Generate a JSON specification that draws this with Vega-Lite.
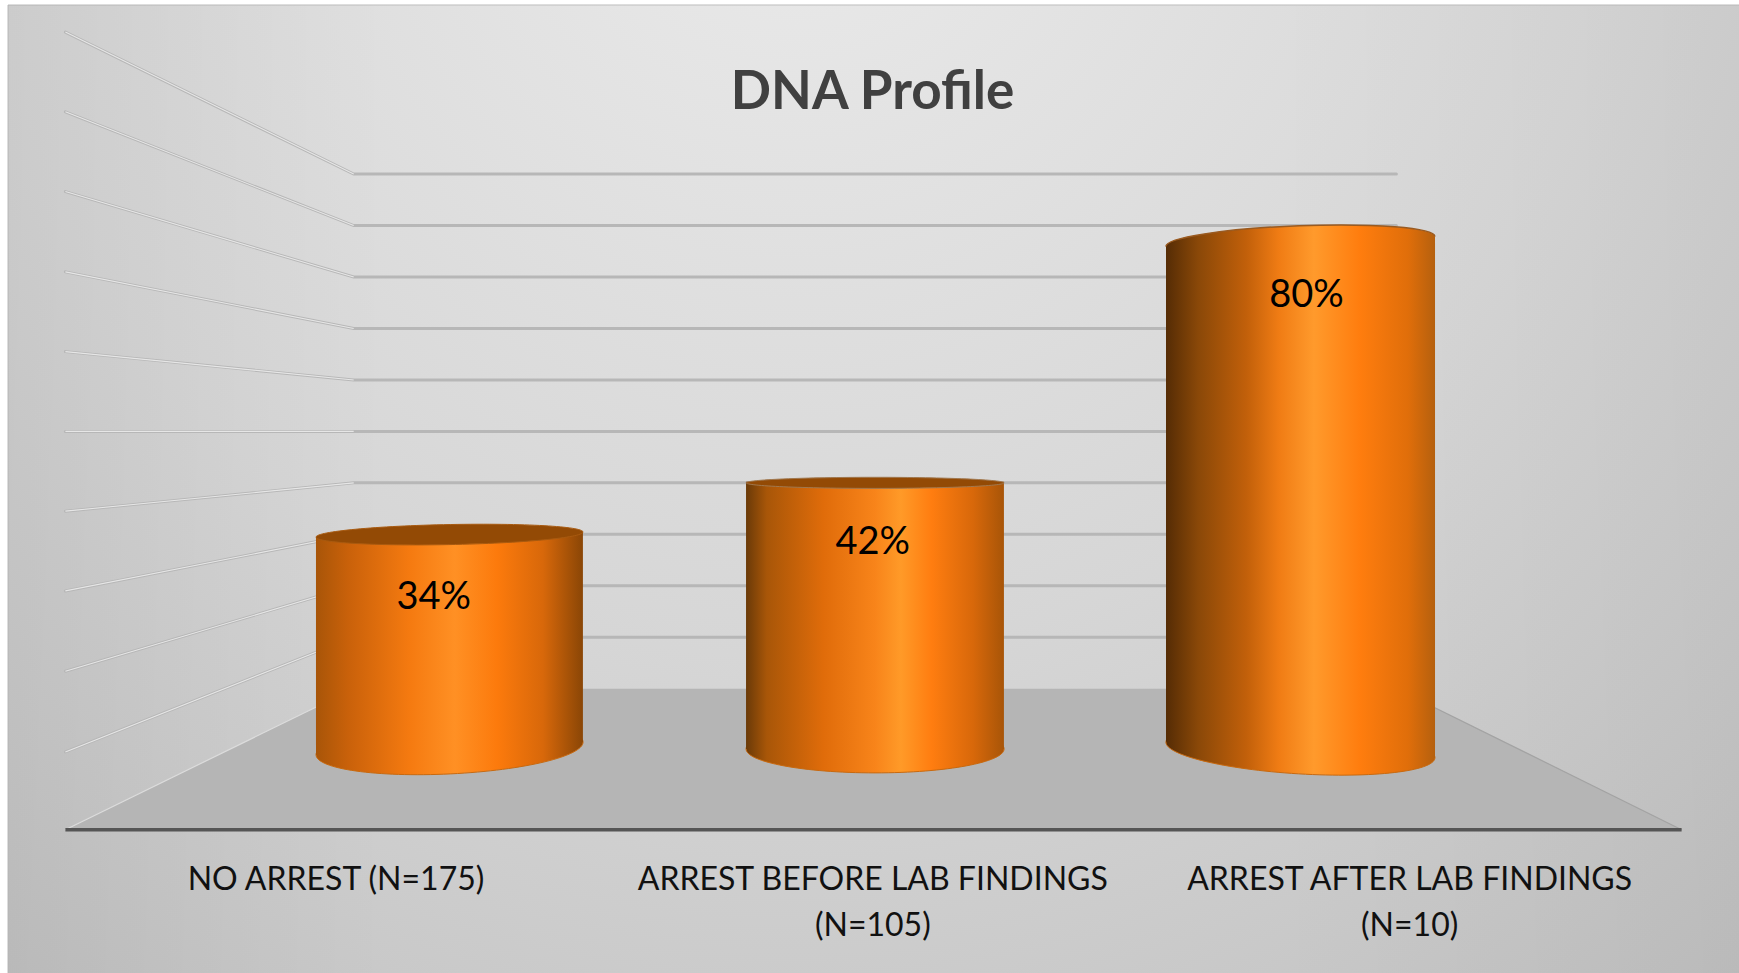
{
"$schema":"https://vega.github.io/schema/vega-lite/v6.json",
"autosize":"none","padding":0,"width":1739,"height":973,"background":"white",
"title":{"text":"DNA Profile","font":"Lato","fontSize":53,"fontWeight":"bold","color":"#404040","anchor":"middle","frame":"group","dx":3,"dy":112,"offset":-50,"baseline":"alphabetic"},
"config":{"axis":{"disable":true},"legend":{"disable":true},"view":{"stroke":null}},
"datasets":{
"frame":[{"x":0.46,"x2":100.5,"y":132.86,"y2":-56}],
"grid":[
{"level":100,"x":3.76,"y":127.6},{"level":100,"x":20.34,"y":100},{"level":100,"x":80.3,"y":100},
{"level":90,"x":3.76,"y":112.1},{"level":90,"x":20.34,"y":90},{"level":90,"x":80.3,"y":90},
{"level":80,"x":3.76,"y":96.6},{"level":80,"x":20.34,"y":80},{"level":80,"x":80.3,"y":80},
{"level":70,"x":3.76,"y":81},{"level":70,"x":20.34,"y":70},{"level":70,"x":80.3,"y":70},
{"level":60,"x":3.76,"y":65.5},{"level":60,"x":20.34,"y":60},{"level":60,"x":80.3,"y":60},
{"level":50,"x":3.76,"y":50},{"level":50,"x":20.34,"y":50},{"level":50,"x":80.3,"y":50},
{"level":40,"x":3.76,"y":34.5},{"level":40,"x":20.34,"y":40},{"level":40,"x":80.3,"y":40},
{"level":30,"x":3.76,"y":19},{"level":30,"x":20.34,"y":30},{"level":30,"x":80.3,"y":30},
{"level":20,"x":3.76,"y":3.4},{"level":20,"x":20.34,"y":20},{"level":20,"x":80.3,"y":20},
{"level":10,"x":3.76,"y":-12.3},{"level":10,"x":20.34,"y":10},{"level":10,"x":80.3,"y":10}
],
"floor":[{"x":3.76,"y":-27.4,"y2":-27.4},{"x":20.34,"y":0,"y2":-27.4},{"x":80.3,"y":0,"y2":-27.4},{"x":96.7,"y":-27.4,"y2":-27.4}],
"body":[
{"bar":"NO ARREST","x":18.17,"y":29.5,"y2":-12.9},{"bar":"NO ARREST","x":33.52,"y":30.4,"y2":-10.4},
{"bar":"BEFORE","x":42.9,"y":40.2,"y2":-11.7},{"bar":"BEFORE","x":57.73,"y":40.2,"y2":-11.7},
{"bar":"AFTER","x":67.05,"y":85.9,"y2":-10.3},{"bar":"AFTER","x":82.52,"y":87.8,"y2":-13.5}
],
"caps":[
{"bar":"NO ARREST","part":"top","x":25.85,"y":29.95},{"bar":"NO ARREST","part":"base","x":25.85,"y":-11.6},
{"bar":"BEFORE","part":"top","x":50.32,"y":40},{"bar":"BEFORE","part":"base","x":50.32,"y":-11.7},
{"bar":"AFTER","part":"top","x":74.78,"y":86.9},{"bar":"AFTER","part":"base","x":74.78,"y":-11.9}
],
"shares":[{"x":24.94,"y":17.65,"share":0.34},{"x":50.19,"y":28.25,"share":0.42},{"x":75.13,"y":76.25,"share":0.8}],
"categories":[
{"x":19.32,"y":-34.3,"category":"NO ARREST (N=175)"},
{"x":50.19,"y":-34.3,"category":"ARREST BEFORE LAB FINDINGS\n(N=105)"},
{"x":81.06,"y":-34.3,"category":"ARREST AFTER LAB FINDINGS\n(N=10)"}
]
},
"encoding":{
"x":{"field":"x","type":"quantitative","scale":{"domain":[0,100],"range":[0,1739],"nice":false,"zero":false}},
"y":{"field":"y","type":"quantitative","stack":null,"scale":{"domain":[-55.25,133.83],"range":[973,0],"nice":false,"zero":false}}
},
"layer":[
{"data":{"name":"frame"},"mark":{"type":"rect","stroke":"#bdbdbd","strokeWidth":1,"fill":{"gradient":"radial","x1":0.45,"y1":0.12,"r1":0,"x2":0.45,"y2":0.12,"r2":0.95,"stops":[{"offset":0,"color":"#ebebeb"},{"offset":0.5,"color":"#d6d6d6"},{"offset":1,"color":"#bababa"}]}},
 "encoding":{"x2":{"field":"x2"},"y2":{"field":"y2"}}},
{"data":{"name":"frame"},"mark":{"type":"rect","fill":{"gradient":"linear","x1":0,"y1":0,"x2":1,"y2":0,"stops":[{"offset":0,"color":"rgba(0,0,0,0.05)"},{"offset":0.22,"color":"rgba(0,0,0,0)"},{"offset":0.72,"color":"rgba(0,0,0,0)"},{"offset":1,"color":"rgba(0,0,0,0.03)"}]}},
 "encoding":{"x2":{"field":"x2"},"y2":{"field":"y2"}}},
{"data":{"name":"grid"},"mark":{"type":"line","stroke":"#b7b7b7","strokeWidth":3,"strokeCap":"round"},"encoding":{"detail":{"field":"level"}}},
{"data":{"name":"grid"},"transform":[{"filter":"datum.x < 21"}],"mark":{"type":"line","stroke":"#e6e6e6","strokeWidth":1.1},"encoding":{"detail":{"field":"level"}}},
{"data":{"name":"floor"},"mark":{"type":"area","orient":"vertical","fill":"#b5b5b5"},"encoding":{"y2":{"field":"y2"}}},
{"data":{"name":"floor"},"transform":[{"filter":"datum.x < 21"}],"mark":{"type":"line","stroke":"#dcdcdc","strokeWidth":1.2}},
{"data":{"name":"floor"},"transform":[{"filter":"datum.x > 21 && datum.x < 81"}],"mark":{"type":"line","stroke":"#c8c8c8","strokeWidth":2}},
{"data":{"name":"floor"},"transform":[{"filter":"datum.x > 80"}],"mark":{"type":"line","stroke":"#a3a3a3","strokeWidth":1.2}},
{"data":{"name":"floor"},"mark":{"type":"rule","stroke":"#555555","strokeWidth":3.5},"transform":[{"filter":"datum.x == 3.76"}],"encoding":{"x2":{"datum":96.7}}},

{"data":{"name":"caps"},"transform":[{"filter":"datum.bar == 'NO ARREST' && datum.part == 'base'"}],
 "mark":{"type":"point","filled":true,"opacity":1,"size":71289,"shape":"M-1 0.0487 A1 0.191 -2.8 1 0 1 -0.0487 A1 0.191 -2.8 1 0 -1 0.0487Z","stroke":"#c8690f","strokeWidth":1,
 "fill":{"gradient":"linear","x1":0,"y1":0,"x2":1,"y2":0,"stops":[{"offset":0,"color":"#a85508"},{"offset":0.12,"color":"#c9610a"},{"offset":0.35,"color":"#f57a10"},{"offset":0.52,"color":"#ff9024"},{"offset":0.68,"color":"#fc7a0c"},{"offset":0.85,"color":"#d8680a"},{"offset":1,"color":"#8a4606"}]}}},
{"data":{"name":"body"},"transform":[{"filter":"datum.bar == 'NO ARREST'"}],
 "mark":{"type":"area","orient":"vertical",
 "fill":{"gradient":"linear","x1":0,"y1":0,"x2":1,"y2":0,"stops":[{"offset":0,"color":"#a85508"},{"offset":0.12,"color":"#c9610a"},{"offset":0.35,"color":"#f57a10"},{"offset":0.52,"color":"#ff9024"},{"offset":0.68,"color":"#fc7a0c"},{"offset":0.85,"color":"#d8680a"},{"offset":1,"color":"#8a4606"}]}},"encoding":{"y2":{"field":"y2"}}},
{"data":{"name":"caps"},"transform":[{"filter":"datum.bar == 'NO ARREST' && datum.part == 'top'"}],
 "mark":{"type":"point","filled":true,"opacity":1,"size":71289,"shape":"M-1 0.0187 A1 0.075 -1.1 1 1 1 -0.0187 A1 0.075 -1.1 1 1 -1 0.0187Z","stroke":"#a85a10","strokeWidth":1,"fill":"#934a05"}},

{"data":{"name":"caps"},"transform":[{"filter":"datum.bar == 'BEFORE' && datum.part == 'base'"}],
 "mark":{"type":"point","filled":true,"opacity":1,"size":66564,"shape":"M-1 0 A1 0.186 0 1 0 1 0 A1 0.186 0 1 0 -1 0Z","stroke":"#c8690f","strokeWidth":1,
 "fill":{"gradient":"linear","x1":0,"y1":0,"x2":1,"y2":0,"stops":[{"offset":0,"color":"#6a3a08"},{"offset":0.08,"color":"#a85608"},{"offset":0.3,"color":"#e06c0a"},{"offset":0.5,"color":"#f8841a"},{"offset":0.6,"color":"#ff9a28"},{"offset":0.72,"color":"#ff7d10"},{"offset":0.88,"color":"#d8680a"},{"offset":1,"color":"#a85508"}]}}},
{"data":{"name":"body"},"transform":[{"filter":"datum.bar == 'BEFORE'"}],
 "mark":{"type":"area","orient":"vertical",
 "fill":{"gradient":"linear","x1":0,"y1":0,"x2":1,"y2":0,"stops":[{"offset":0,"color":"#6a3a08"},{"offset":0.08,"color":"#a85608"},{"offset":0.3,"color":"#e06c0a"},{"offset":0.5,"color":"#f8841a"},{"offset":0.6,"color":"#ff9a28"},{"offset":0.72,"color":"#ff7d10"},{"offset":0.88,"color":"#d8680a"},{"offset":1,"color":"#a85508"}]}},"encoding":{"y2":{"field":"y2"}}},
{"data":{"name":"caps"},"transform":[{"filter":"datum.bar == 'BEFORE' && datum.part == 'top'"}],
 "mark":{"type":"point","filled":true,"opacity":1,"size":66564,"shape":"M-1 0 A1 0.043 0 1 1 1 0 A1 0.043 0 1 1 -1 0Z","stroke":"#a0784f","strokeWidth":1,"fill":"#934a05"}},

{"data":{"name":"caps"},"transform":[{"filter":"datum.bar == 'AFTER' && datum.part == 'base'"}],
 "mark":{"type":"point","filled":true,"opacity":1,"size":72361,"shape":"M-1 -0.06 A1 0.178 3.4 1 0 1 0.06 A1 0.178 3.4 1 0 -1 -0.06Z","stroke":"#c8690f","strokeWidth":1,
 "fill":{"gradient":"linear","x1":0,"y1":0,"x2":1,"y2":0,"stops":[{"offset":0,"color":"#552c05"},{"offset":0.12,"color":"#8a4808"},{"offset":0.3,"color":"#c2600a"},{"offset":0.42,"color":"#f07c14"},{"offset":0.55,"color":"#ff9a2c"},{"offset":0.72,"color":"#ff7d0e"},{"offset":0.9,"color":"#e06e0a"},{"offset":1,"color":"#b5600e"}]}}},
{"data":{"name":"body"},"transform":[{"filter":"datum.bar == 'AFTER'"}],
 "mark":{"type":"area","orient":"vertical",
 "fill":{"gradient":"linear","x1":0,"y1":0,"x2":1,"y2":0,"stops":[{"offset":0,"color":"#552c05"},{"offset":0.12,"color":"#8a4808"},{"offset":0.3,"color":"#c2600a"},{"offset":0.42,"color":"#f07c14"},{"offset":0.55,"color":"#ff9a2c"},{"offset":0.72,"color":"#ff7d0e"},{"offset":0.9,"color":"#e06e0a"},{"offset":1,"color":"#b5600e"}]}},"encoding":{"y2":{"field":"y2"}}},
{"data":{"name":"caps"},"transform":[{"filter":"datum.bar == 'AFTER' && datum.part == 'top'"}],
 "mark":{"type":"point","filled":true,"opacity":1,"size":72361,"shape":"M-1 0.0372 A1 0.117 -2.1 1 1 1 -0.0372 A1 0.117 -2.1 1 1 -1 0.0372Z",
 "fill":{"gradient":"linear","x1":0,"y1":0,"x2":1,"y2":0,"stops":[{"offset":0,"color":"#552c05"},{"offset":0.12,"color":"#8a4808"},{"offset":0.3,"color":"#c2600a"},{"offset":0.42,"color":"#f07c14"},{"offset":0.55,"color":"#ff9a2c"},{"offset":0.72,"color":"#ff7d0e"},{"offset":0.9,"color":"#e06e0a"},{"offset":1,"color":"#b5600e"}]}}},
{"data":{"name":"caps"},"transform":[{"filter":"datum.bar == 'AFTER' && datum.part == 'top'"}],
 "mark":{"type":"point","filled":false,"opacity":1,"size":72361,"shape":"M-1 0.0372 A1 0.117 -2.1 1 1 1 -0.0372","stroke":"#9a5a20","strokeWidth":1.5}},

{"data":{"name":"shares"},"mark":{"type":"text","font":"Lato","fontSize":38,"color":"#000000","align":"center","baseline":"middle"},"encoding":{"text":{"field":"share","type":"quantitative","format":".0%"}}},
{"data":{"name":"categories"},"mark":{"type":"text","font":"Lato","fontSize":32,"color":"#111111","align":"center","baseline":"top","lineBreak":"\n","lineHeight":45.5},"encoding":{"text":{"field":"category"}}}
]
}
